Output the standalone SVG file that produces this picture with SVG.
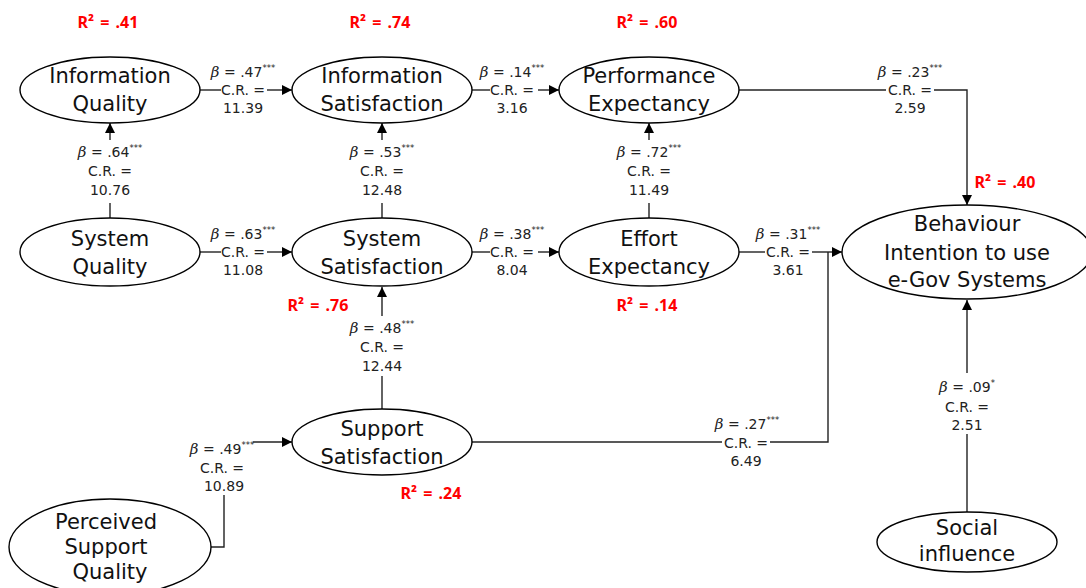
<svg xmlns="http://www.w3.org/2000/svg" width="1086" height="588" viewBox="0 0 1086 588">
<defs>
<marker id="arr" viewBox="0 0 10 10" refX="10" refY="5" markerWidth="10" markerHeight="10" markerUnits="userSpaceOnUse" orient="auto">
<path d="M0,0 L10,5 L0,10 Z" fill="#000"/>
</marker>
<style>
.node ellipse{fill:#fff;stroke:#000;stroke-width:1.4}
.node text{font-family:"DejaVu Sans","Noto Sans",sans-serif;font-size:21px;fill:#111;text-anchor:middle}
.conn path{fill:none;stroke:#222;stroke-width:1.4}
.conn path.a{marker-end:url(#arr)}
.lbl{font-family:"DejaVu Sans","Noto Sans",sans-serif;font-size:14px;fill:#222;text-anchor:middle}
.b{font-family:"DejaVu Serif","Liberation Serif",serif;font-style:italic;font-size:15px}
.s{font-size:8.5px}
.r2{font-family:"Noto Sans","Liberation Sans",sans-serif;font-size:16px;font-weight:bold;fill:#ff0000;text-anchor:middle;word-spacing:2px}
</style>
</defs>
<rect width="1086" height="588" fill="#fff"/>

<g id="connectors" class="conn">
<path d="M200 90 H221"/><path class="a" d="M267 90 H292"/>
<path d="M472 90 H490"/><path class="a" d="M538 90 H559"/>
<path d="M200 252 H221"/><path class="a" d="M267 252 H292"/>
<path d="M472 252 H490"/><path class="a" d="M538 252 H559"/>
<path d="M739 252 H765"/><path class="a" d="M812 252 H842"/>
<path d="M739 90 H886"/><path class="a" d="M934 90 H967 V205"/>
<path d="M110 218 V203"/><path class="a" d="M110 140 V123"/>
<path d="M382 218 V203"/><path class="a" d="M382 140 V123"/>
<path d="M649 218 V203"/><path class="a" d="M649 140 V123"/>
<path d="M382 409 V376"/><path class="a" d="M382 316 V287"/>
<path d="M211 547 H224 V495"/><path class="a" d="M253 442 H292"/>
<path d="M472 442 H722"/><path d="M770 442 H828 V252"/>
<path d="M967 513 V434"/><path class="a" d="M967 373 V300"/>
</g>

<g id="labels">
<text class="lbl" x="243" y="77"><tspan class="b">β</tspan> = .47<tspan class="s" dy="-6">***</tspan></text>
<text class="lbl" x="243" y="95">C.R. =</text>
<text class="lbl" x="243" y="113">11.39</text>

<text class="lbl" x="512" y="77"><tspan class="b">β</tspan> = .14<tspan class="s" dy="-6">***</tspan></text>
<text class="lbl" x="512" y="95">C.R. =</text>
<text class="lbl" x="512" y="113">3.16</text>

<text class="lbl" x="243" y="239"><tspan class="b">β</tspan> = .63<tspan class="s" dy="-6">***</tspan></text>
<text class="lbl" x="243" y="257">C.R. =</text>
<text class="lbl" x="243" y="275">11.08</text>

<text class="lbl" x="512" y="239"><tspan class="b">β</tspan> = .38<tspan class="s" dy="-6">***</tspan></text>
<text class="lbl" x="512" y="257">C.R. =</text>
<text class="lbl" x="512" y="275">8.04</text>

<text class="lbl" x="788" y="239"><tspan class="b">β</tspan> = .31<tspan class="s" dy="-6">***</tspan></text>
<text class="lbl" x="788" y="257">C.R. =</text>
<text class="lbl" x="788" y="275">3.61</text>

<text class="lbl" x="910" y="77"><tspan class="b">β</tspan> = .23<tspan class="s" dy="-6">***</tspan></text>
<text class="lbl" x="910" y="95">C.R. =</text>
<text class="lbl" x="910" y="113">2.59</text>

<text class="lbl" x="110" y="157"><tspan class="b">β</tspan> = .64<tspan class="s" dy="-6">***</tspan></text>
<text class="lbl" x="110" y="176">C.R. =</text>
<text class="lbl" x="110" y="195">10.76</text>

<text class="lbl" x="382" y="157"><tspan class="b">β</tspan> = .53<tspan class="s" dy="-6">***</tspan></text>
<text class="lbl" x="382" y="176">C.R. =</text>
<text class="lbl" x="382" y="195">12.48</text>

<text class="lbl" x="649" y="157"><tspan class="b">β</tspan> = .72<tspan class="s" dy="-6">***</tspan></text>
<text class="lbl" x="649" y="176">C.R. =</text>
<text class="lbl" x="649" y="195">11.49</text>

<text class="lbl" x="382" y="333"><tspan class="b">β</tspan> = .48<tspan class="s" dy="-6">***</tspan></text>
<text class="lbl" x="382" y="352">C.R. =</text>
<text class="lbl" x="382" y="371">12.44</text>

<text class="lbl" x="222" y="454"><tspan class="b">β</tspan> = .49<tspan class="s" dy="-6">***</tspan></text>
<text class="lbl" x="222" y="473">C.R. =</text>
<text class="lbl" x="224" y="491">10.89</text>

<text class="lbl" x="747" y="429"><tspan class="b">β</tspan> = .27<tspan class="s" dy="-6">***</tspan></text>
<text class="lbl" x="746" y="448">C.R. =</text>
<text class="lbl" x="746" y="466">6.49</text>

<text class="lbl" x="967" y="392"><tspan class="b">β</tspan> = .09<tspan class="s" dy="-6">*</tspan></text>
<text class="lbl" x="967" y="412">C.R. =</text>
<text class="lbl" x="967" y="430">2.51</text>

<text class="r2" x="108" y="28">R² = .41</text>
<text class="r2" x="380" y="28">R² = .74</text>
<text class="r2" x="647" y="28">R² = .60</text>
<text class="r2" x="318" y="311">R² = .76</text>
<text class="r2" x="647" y="311">R² = .14</text>
<text class="r2" x="431" y="499">R² = .24</text>
<text class="r2" x="1005" y="188">R² = .40</text>
</g>

<g id="info-quality" class="node"><ellipse cx="110" cy="90" rx="90" ry="33"/><text x="110" y="83">Information</text><text x="110" y="111">Quality</text></g>
<g id="info-satisfaction" class="node"><ellipse cx="382" cy="90" rx="90" ry="33"/><text x="382" y="83">Information</text><text x="382" y="111">Satisfaction</text></g>
<g id="performance-expectancy" class="node"><ellipse cx="649" cy="90" rx="90" ry="33"/><text x="649" y="83">Performance</text><text x="649" y="111">Expectancy</text></g>
<g id="system-quality" class="node"><ellipse cx="110" cy="252" rx="90" ry="34"/><text x="110" y="246">System</text><text x="110" y="274">Quality</text></g>
<g id="system-satisfaction" class="node"><ellipse cx="382" cy="252" rx="90" ry="34"/><text x="382" y="246">System</text><text x="382" y="274">Satisfaction</text></g>
<g id="effort-expectancy" class="node"><ellipse cx="649" cy="252" rx="90" ry="34"/><text x="649" y="246">Effort</text><text x="649" y="274">Expectancy</text></g>
<g id="support-satisfaction" class="node"><ellipse cx="382" cy="442" rx="90" ry="33"/><text x="382" y="436">Support</text><text x="382" y="464">Satisfaction</text></g>
<g id="perceived-support-quality" class="node"><ellipse cx="110" cy="547" rx="101" ry="48"/><text x="106" y="529">Perceived</text><text x="106" y="554">Support</text><text x="110" y="579">Quality</text></g>
<g id="behaviour-intention" class="node"><ellipse cx="967" cy="252" rx="125" ry="47"/><text x="967" y="231">Behaviour</text><text x="967" y="260">Intention to use</text><text x="967" y="287">e-Gov Systems</text></g>
<g id="social-influence" class="node"><ellipse cx="967" cy="542" rx="90" ry="30"/><text x="967" y="535">Social</text><text x="967" y="561">influence</text></g>
</svg>
